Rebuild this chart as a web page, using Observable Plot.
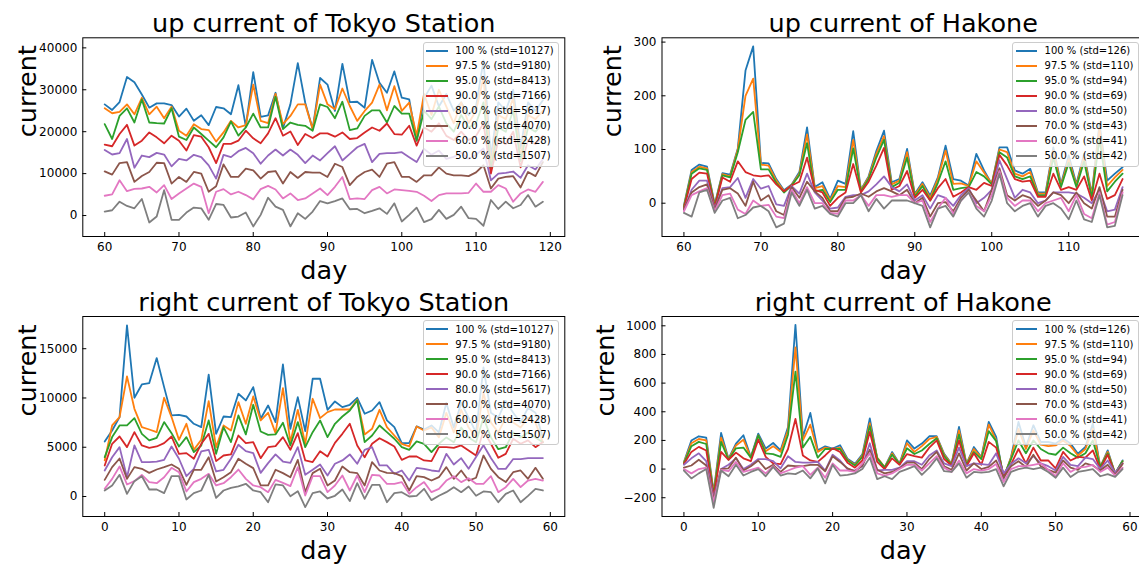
<!DOCTYPE html>
<html>
<head>
<meta charset="utf-8">
<script src="https://cdn.jsdelivr.net/npm/d3@7"></script>
<script src="https://cdn.jsdelivr.net/npm/@observablehq/plot@0.6"></script>
<style>
  html, body { margin: 0; padding: 0; background: #fff; overflow: hidden; }
  #fig { position: relative; width: 1139px; height: 565px; overflow: hidden; font-family: "DejaVu Sans", sans-serif; }
  .panel { position: absolute; }
  .panel svg { overflow: visible; }
  .legend { position: absolute; background: rgba(255,255,255,0.8); border: 1px solid #cccccc; border-radius: 3px;
            padding: 0.5px 4.6px 2.5px 2.4px; font-size: 10px; color: #000; white-space: nowrap; }
  .legend .row { display: flex; align-items: center; height: 15px; }
  .legend .swatch { width: 21.6px; height: 0; border-top: 2px solid; margin-right: 7.4px; }
</style>
</head>
<body>
<div id="fig"></div>
<script>
// Quantile levels and their standard deviations
const levels = ["100 %", "97.5 %", "95.0 %", "90.0 %", "80.0 %", "70.0 %", "60.0 %", "50.0 %"];
const stdTokyo = [10127, 9180, 8413, 7166, 5617, 4070, 2428, 1507];
const stdHakone = [126, 110, 94, 69, 50, 43, 41, 42];
const colors = ["#1f77b4", "#ff7f0e", "#2ca02c", "#d62728", "#9467bd", "#8c564b", "#e377c2", "#7f7f7f"];

// Day indices
const daysUpTokyo = d3.range(60, 120);
const daysUpHakone = d3.range(60, 118);
const daysRight = d3.range(0, 60);

// Up current of Tokyo Station (one row per level, days 60–119)
const upTokyo = [
  [26520,25180,27070,33050,31800,28880,25730,26760,26760,26360, 23600,25500,22590,23920,21560,25890,25580,24160,31090,21250,
   34230,23530,23920,29280,20850,26520,36360,26900,20620,32820, 31240,24950,36200,27070,27150,25730,37150,31640,29280,34390,
   28100,27700,17860,28000,31000,26000,29000,25000,27000,24000, 26000,37000,14000,27000,25000,30000,16000,27000,25000,27500],
  [25580,24400,24710,26520,24160,28100,24160,25970,23220,25970, 20230,19050,21800,20620,20380,17630,19830,22590,21010,21560,
   31240,22590,22040,29040,21800,23770,26520,26520,20620,31240, 26520,25340,30300,26130,22590,24950,26920,31240,25100,30850,
   24950,26920,19050,29000,24000,30000,26000,22000,27000,22000, 25000,33000,12000,24000,23000,28000,14000,24000,23000,25000],
  [21800,18260,23770,25580,22190,27700,22190,22040,21960,25580, 18810,18020,21010,19440,17860,16290,18650,22430,19050,21010,
   24320,21010,21010,28330,20620,22190,21640,21410,20230,26520, 25890,23220,27150,20380,20780,23770,25100,25100,22190,26130,
   24320,24320,17860,25000,23000,26000,22000,20000,24000,21000, 22000,27000,11000,21000,20000,25000,13000,21000,20000,22000],
  [16920,16530,19440,21640,16680,17860,19830,18650,17240,19050, 17860,15500,19200,18810,16290,12510,17080,17080,17860,20230,
   18420,17240,19600,23220,19050,20070,16840,19440,18490,19600, 19600,18810,19830,18260,18490,19830,21010,20230,21960,19440,
   19280,21410,16680,21000,20000,22000,19000,18000,20000,18000, 19000,22000,10000,18000,17000,20000,11500,18000,17000,19000],
  [15660,14560,14870,18260,11410,14320,13930,14950,14560,11730, 13540,13140,14480,13930,11960,8810,14480,13930,15350,16130,
   14870,12360,14320,15740,14320,15740,14480,12510,14320,13140, 14870,16530,13140,14720,16290,17080,12750,14720,14870,14870,
   15110,13930,12750,15900,14500,15500,13500,14000,15000,13500, 14500,16000,8400,10000,10200,10500,9000,12000,11000,13500],
  [10550,9760,12510,12750,8030,9440,10390,12590,12510,7630, 9210,8030,10390,9990,5670,7000,12200,9210,9210,11180,
   10780,8810,10390,10620,7630,10390,8970,10390,10230,10230, 9210,12360,11570,7240,9210,10390,10940,9210,12360,12750,
   9210,9210,8030,9600,9600,11500,10000,9600,9600,9400, 10300,12000,6450,8800,9200,9400,6700,10400,9400,12750],
  [4720,5040,8420,5820,6370,6450,6850,5510,7240,3940, 5270,6450,7630,6850,550,5670,6300,5040,5670,4880,
   3860,6300,7080,6220,4090,5270,3700,4090,5270,6450, 4880,6850,9210,3940,4090,3940,6060,6850,5270,6220,
   6060,5900,5670,4720,3460,4880,5270,5270,5270,5430, 7630,5670,5670,7240,6450,3300,5270,6220,5670,8030],
  [940,1260,3310,2280,1730,3940,-1650,-240,6060,-1020, -1020,710,1890,1730,-1020,2750,2520,-470,-240,710,
   -2600,160,4250,2120,1340,-2600,550,-790,940,3460, 2910,3460,4090,1500,1570,550,1100,1730,390,2910,
   -1420,160,1890,-1570,-870,1340,-790,160,2120,-630, -790,-2440,3700,1570,3310,1730,2520,4880,2120,3310]
];

// Up current of Hakone (days 60–117)
const upHakone = [
  [-4,62,72,68,-2,56,53,102,247,292, 75,74,45,24,35,58,141,30,39,8, 42,36,134,25,50,97,135,39,45,101,
   17,39,14,48,107,45,42,33,92,61, 36,104,104,61,55,64,20,20,104,36, 89,36,92,17,148,42,55,67],
  [-6,58,68,65,-4,54,50,100,200,232, 72,70,42,22,34,55,128,28,32,5, 32,30,118,24,48,92,125,35,42,95,
   15,36,10,45,98,36,37,32,78,57, 36,100,95,55,50,58,18,18,98,33, 82,33,87,14,140,32,48,62],
  [-8,55,65,62,-6,52,48,95,155,170, 63,63,38,20,33,52,112,22,25,2, 25,25,102,22,45,85,118,30,38,85,
   12,32,5,38,78,25,28,30,58,50, 35,95,85,50,45,50,15,15,85,30, 75,30,78,10,120,22,40,55],
  [-10,45,57,55,-8,48,40,78,58,52, 50,52,35,22,33,40,85,25,20,-5, 10,20,73,20,40,70,103,25,32,60,
   10,25,5,28,45,12,20,30,25,38, 32,90,70,45,40,42,12,12,55,25, 30,25,50,5,55,8,15,45],
  [-12,25,42,42,-10,28,30,47,10,45, 27,32,-2,-5,32,18,55,20,5,-10, -8,12,15,15,22,35,50,30,22,35,
   5,15,-10,15,10,-5,15,28,0,10, 25,80,45,10,25,20,0,5,20,20, 20,18,10,0,25,-15,-12,30],
  [-12,20,30,35,-12,25,28,18,-5,40, 5,15,-15,-22,30,10,40,22,10,-15, -15,10,12,18,12,22,28,22,15,25,
   0,10,-25,0,2,-15,10,25,5,-15, 25,65,15,5,15,10,-5,5,20,15, 0,20,0,-10,30,-25,-25,25],
  [-15,15,22,28,-15,15,18,-12,-20,5, -5,-3,-25,-28,25,0,30,0,0,-18, -20,5,5,15,-5,15,15,12,15,15,
   0,5,-35,-10,10,-20,5,20,-5,-15, 15,60,10,-5,5,5,-15,0,5,10, -15,15,-20,-28,20,-40,-35,20],
  [-18,-25,20,25,-18,5,10,-28,-22,-8, -5,-15,-45,-38,20,-5,25,-10,-5,-20, -25,0,0,15,-15,8,-10,5,5,5,
   0,-5,-45,-10,-5,-25,5,20,-10,-25, 5,55,0,-15,-5,0,-25,-5,0,-10, -30,5,-30,-35,15,-45,-42,15]
];

// Right current of Tokyo Station (days 0–59)
const rightTokyo = [
  [5590,6700,8060,17370,10020,11370,11510,14050,11100,8230, 8290,8120,7380,7040,12360,6360,8120,8060,10430,9750,
   11100,7890,9240,7550,13400,6870,10090,6630,11950,11950, 8800,9650,9070,9310,10020,8400,8730,9580,7720,7040,
   5420,5420,7110,6800,7210,6500,9500,7000,9500,8000, 6500,13100,8500,8000,9700,8500,7500,9000,8500,6000],
  [3660,7210,8060,12190,8900,7040,6800,6530,10020,8060, 5750,7380,4740,5750,9680,5010,7210,6700,9580,7380,
   10160,7720,8500,6430,11000,5520,8800,5350,9920,7950, 8560,8830,8830,8830,9820,6300,6870,8800,7040,6190,
   5350,5080,7110,6700,7000,6000,8500,6500,8800,7000, 6000,10500,7500,6500,8000,7500,7000,8000,7500,5500],
  [4000,6030,7210,7210,7950,6360,5690,5960,7550,6430, 5080,6030,4500,5180,7720,4330,7040,5520,8230,6300,
   9310,6600,6260,6300,7480,5180,7550,5010,6530,7720, 6030,7380,8120,8730,9750,5520,6190,7210,6530,5860,
   5010,4740,5590,5350,4500,5350,6000,5500,7000,6000, 5500,8000,6000,4800,5000,6500,6000,6500,6000,5500],
  [3150,5350,6090,5010,6530,5180,4940,5080,5420,6090, 4330,4400,3830,5350,6360,3590,4160,4270,6190,5420,
   5520,3890,5010,5110,6030,4740,6430,3660,3490,4600, 4060,5450,6360,7380,5180,3990,5350,5920,5520,5080,
   3720,4060,4060,3660,3590,5010,5010,4940,5180,4670, 4160,6700,5350,3930,4330,5860,5350,5690,5010,5520],
  [2640,3990,5010,1960,5180,3490,3490,3550,3720,5080, 3830,2060,2810,4570,4740,2540,2710,3830,5250,4600,
   4400,2400,3390,4270,3550,3420,5010,2200,2710,3250, 2130,3320,3660,4270,3320,4740,5010,3150,3150,2300,
   2640,1620,2910,2810,2640,2540,4330,3250,3890,2810, 4000,5200,3900,2800,2800,3800,3800,3900,3900,3900],
  [1690,2980,3860,1790,2980,2810,2400,2740,2980,3250, 2810,1180,2710,2710,3990,1520,1960,2470,3830,3320,
   2880,1120,1120,2710,2370,1960,3720,440,2370,2810, 1120,1620,3050,2470,2370,1120,3490,2640,2400,2370,
   2060,610,2060,1960,1620,1960,2980,1790,2640,1620, 1900,4160,2810,1960,1460,2470,2640,1790,2910,1790],
  [780,1790,3050,1220,1560,2200,1460,1350,1960,2910, 2470,510,1460,1790,2300,1120,1350,1960,2740,1790,
   1120,950,440,1690,1390,1050,2980,100,2060,2060, 440,1120,2130,610,2130,440,2200,2130,1290,1290,
   1460,270,950,1460,440,780,1620,2060,1460,1860, 1290,1290,2060,440,950,1790,950,1620,1790,1620],
  [610,1120,2200,270,1560,2060,710,710,340,2060, 2060,-300,340,610,2200,-140,610,880,1020,1290,
   610,440,-580,1220,1120,30,540,-1080,340,510, -200,70,710,-470,1350,-240,1180,1180,-580,340,
   440,0,70,780,-370,70,440,950,440,1020, 70,510,440,-580,270,610,-580,70,780,610]
];

// Right current of Hakone (days 0–59)
const rightHakone = [
  [49,200,229,220,-160,252,72,178,236,84, 248,143,182,131,294,1007,224,392,131,159,
   143,166,72,37,103,353,75,14,119,37, 200,143,178,229,229,107,37,294,37,154,
   84,329,224,-68,84,329,154,306,189,189, 178,213,178,107,154,318,14,131,-33,61],
  [45,180,210,200,-170,220,68,165,205,80, 235,125,160,120,270,850,200,310,120,150,
   140,150,65,30,95,320,80,12,110,35, 180,120,160,210,225,100,35,270,35,140,
   80,310,200,-60,80,280,140,270,170,160, 165,200,160,95,140,280,15,120,-30,55],
  [40,160,190,175,-180,190,65,145,150,80, 235,110,105,85,240,680,150,225,80,140,
   140,140,60,25,85,300,75,10,100,35, 145,105,130,175,215,90,30,240,30,120,
   70,265,195,-50,70,200,110,200,140,110, 100,150,110,80,110,200,15,110,-30,55],
  [35,120,155,130,-190,120,65,115,75,55, 205,85,40,35,140,350,95,60,50,95,
   145,120,45,10,60,260,50,0,75,30, 105,90,80,150,200,70,25,200,20,110,
   30,190,150,-40,35,140,40,150,60,60, 5,120,60,85,80,130,0,100,-35,40],
  [30,75,110,55,-200,0,30,75,0,30, 70,70,55,5,90,50,45,45,50,-10,
   100,60,0,-10,20,180,-10,-5,-5,10, 55,55,30,95,130,40,20,150,20,40,
   35,30,110,-30,35,75,40,90,40,20, -10,85,30,20,80,70,0,60,-25,40],
  [10,25,65,25,-210,0,5,80,-10,20, 60,0,30,-20,25,20,20,30,30,-15,
   90,50,5,-15,25,135,-5,-30,-20,5, 45,45,0,70,120,20,-5,110,-10,40,
   0,15,60,-60,20,55,15,100,20,-5, -25,60,10,-5,40,25,-10,30,-40,35],
  [0,-30,0,10,-230,-5,-15,50,-20,-5, 10,-30,20,-30,-10,10,20,-40,10,-60,
   40,-10,-10,-20,40,110,-30,-45,-30,0, 30,30,-10,40,90,10,-20,60,-30,0,
   -10,0,35,-90,0,20,20,30,40,-5, -50,40,-20,10,15,30,-20,10,-45,10],
  [-10,-65,-30,0,-270,-10,-50,30,-45,-20, 0,-50,15,-45,-30,-35,-10,-65,5,-100,
   30,-45,-40,-30,0,80,-70,-50,-70,-20, 0,20,-40,10,75,-15,-20,40,-60,-20,
   -25,-20,0,-120,-20,0,10,0,10,-20, -60,10,-55,-20,-10,0,-50,-35,-55,0]
];

// Axis ticks
const ticksDayUpTokyo = [60, 70, 80, 90, 100, 110, 120];
const ticksDayUpHakone = [60, 70, 80, 90, 100, 110];
const ticksDayRight = [0, 10, 20, 30, 40, 50, 60];
const ticksUpTokyo = [0, 10000, 20000, 30000, 40000];
const ticksUpHakone = [0, 100, 200, 300];
const ticksRightTokyo = [0, 5000, 10000, 15000];
const ticksRightHakone = [-200, 0, 200, 400, 600, 800, 1000];

const fig = document.getElementById("fig");
const fmt = d3.format("d");

function drawPanel({title, days, series, std, xDomain, xTicks, yDomain, yTicks, left, top, width, height, margins, ylabelDx}) {
  const [mt, mr, mb, ml] = margins;
  const marks = [];
  series.forEach((values, i) => {
    const rows = days.map((day, j) => ({day, value: values[j]}));
    marks.push(Plot.line(rows, {x: "day", y: "value", stroke: colors[i], strokeWidth: 1.8}));
  });
  marks.push(
    Plot.frame({stroke: "black", strokeWidth: 1}),
    Plot.axisX({ticks: xTicks, tickSize: 0, tickPadding: 6, tickFormat: fmt, fontSize: 12, label: null}),
    Plot.axisX({ticks: xTicks, tickSize: 4, dy: -4, fill: "none", label: null}),
    Plot.axisY({ticks: yTicks, tickSize: 0, tickPadding: 5.5, tickFormat: fmt, fontSize: 12, label: null}),
    Plot.axisY({ticks: yTicks, tickSize: 4, dx: 4, fill: "none", label: null}),
    Plot.text([title], {frameAnchor: "top", dy: -6, lineAnchor: "bottom", fontSize: 25.5}),
    Plot.text(["day"], {frameAnchor: "bottom", dy: 34, lineAnchor: "middle", fontSize: 25.5}),
    Plot.text(["current"], {frameAnchor: "left", dx: ylabelDx, rotate: -90, lineAnchor: "middle", fontSize: 25.5})
  );
  const chart = Plot.plot({
    width, height,
    marginTop: mt, marginRight: mr, marginBottom: mb, marginLeft: ml,
    x: {domain: xDomain},
    y: {domain: yDomain},
    style: {fontFamily: "DejaVu Sans", fontSize: "12px", background: "transparent", color: "black"},
    marks
  });
  const wrap = document.createElement("div");
  wrap.className = "panel";
  wrap.style.left = left + "px";
  wrap.style.top = top + "px";
  wrap.style.width = width + "px";
  wrap.style.height = height + "px";
  wrap.appendChild(chart);

  // Legend in the upper-right corner of the axes
  const legend = document.createElement("div");
  legend.className = "legend";
  legend.style.right = (mr + 5) + "px";
  legend.style.top = (mt + 4.4) + "px";
  levels.forEach((lv, i) => {
    const row = document.createElement("div");
    row.className = "row";
    const sw = document.createElement("span");
    sw.className = "swatch";
    sw.style.borderTopColor = colors[i];
    const label = document.createElement("span");
    label.textContent = `${lv} (std=${std[i]})`;
    row.appendChild(sw);
    row.appendChild(label);
    legend.appendChild(row);
  });
  wrap.appendChild(legend);
  fig.appendChild(wrap);
}

drawPanel({
  title: "up current of Tokyo Station", days: daysUpTokyo, series: upTokyo, std: stdTokyo,
  xDomain: [57.05, 121.95], xTicks: ticksDayUpTokyo, yDomain: [-5000, 42400], yTicks: ticksUpTokyo,
  left: 0, top: 0, width: 570, height: 285, margins: [37.3, 5.7, 49, 82.3], ylabelDx: -55
});
drawPanel({
  title: "up current of Hakone", days: daysUpHakone, series: upHakone, std: stdHakone,
  xDomain: [57.15, 119.85], xTicks: ticksDayUpHakone, yDomain: [-62, 308], yTicks: ticksUpHakone,
  left: 575, top: 0, width: 575, height: 285, margins: [37.3, 6, 49, 86.5], ylabelDx: -49
});
drawPanel({
  title: "right current of Tokyo Station", days: daysRight, series: rightTokyo, std: stdTokyo,
  xDomain: [-2.95, 61.95], xTicks: ticksDayRight, yDomain: [-2030, 18270], yTicks: ticksRightTokyo,
  left: 0, top: 280, width: 570, height: 285, margins: [36, 5.7, 49, 82.3], ylabelDx: -55
});
drawPanel({
  title: "right current of Hakone", days: daysRight, series: rightHakone, std: stdHakone,
  xDomain: [-2.95, 61.95], xTicks: ticksDayRight, yDomain: [-331, 1065], yTicks: ticksRightHakone,
  left: 575, top: 280, width: 575, height: 285, margins: [36, 6, 49, 86.5], ylabelDx: -56
});
</script>
</body>
</html>
